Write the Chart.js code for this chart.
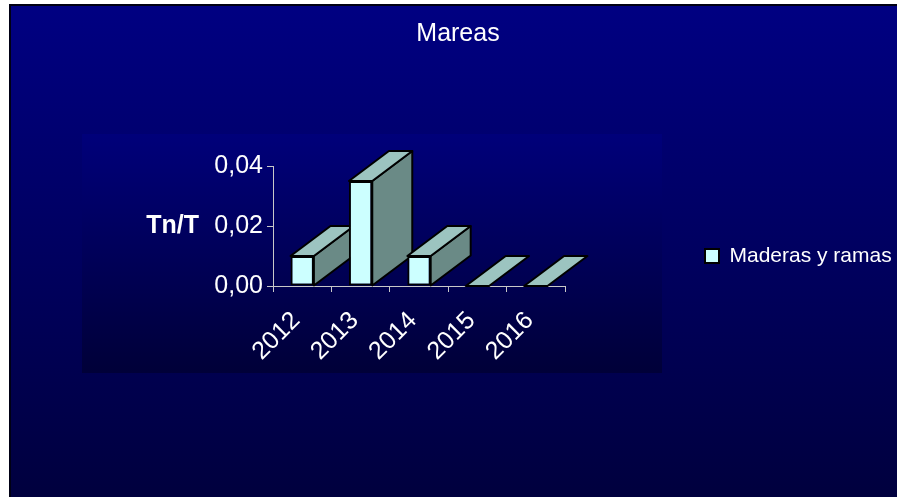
<!DOCTYPE html>
<html>
<head>
<meta charset="utf-8">
<script src="https://cdn.jsdelivr.net/npm/chart.js@4.4.1/dist/chart.umd.min.js"></script>
<style>
    body { margin: 0; background: #ffffff; overflow: hidden; }
    canvas { display: block; }
</style>
</head>
<body>
<canvas id="graph" width="897" height="497"></canvas>
<script>
const years = ['2012', '2013', '2014', '2015', '2016'];
const maderas = [0.01, 0.035, 0.01, 0, 0]; // Tn/T per year
const yTicks = [0, 0.02, 0.04];

const FRONT = '#ccffff';
const TOP = '#9cc4c0';
const SIDE = '#6a8a86';
const DEPTH_X = 40; // how far the bar extrudes to the right
const DEPTH_Y = 30; // and upwards

// slide background + darker inner panel behind the plot
const backdrop = {
    id: 'backdrop',
    beforeDraw(chart) {
        const {ctx, width, height} = chart;
        ctx.save();
        ctx.fillStyle = '#ffffff';
        ctx.fillRect(0, 0, width, height);
        const g = ctx.createLinearGradient(0, 4, 0, height);
        g.addColorStop(0, '#000082');
        g.addColorStop(1, '#00003e');
        ctx.fillStyle = g;
        ctx.fillRect(9, 4, width - 9, height - 4);
        ctx.fillStyle = '#000014';
        ctx.fillRect(9, 4, width - 9, 2);
        ctx.fillRect(9, 4, 2, height - 4);
        const p = ctx.createLinearGradient(0, 134, 0, 373);
        p.addColorStop(0, '#00007a');
        p.addColorStop(1, '#000038');
        ctx.fillStyle = p;
        ctx.fillRect(82, 134, 580, 239);
        ctx.restore();
    }
};

// draws the top and right faces of every bar, fronts are drawn by chart.js on top
const extrude = {
    id: 'extrude',
    beforeDatasetsDraw(chart) {
        const {ctx} = chart;
        const meta = chart.getDatasetMeta(0);
        ctx.save();
        ctx.lineWidth = 2;
        ctx.lineJoin = 'round';
        ctx.strokeStyle = '#000000';
        meta.data.forEach((bar) => {
            const {x, y, base, width} = bar.getProps(['x', 'y', 'base', 'width'], true);
            const x0 = x - width / 2;
            const x1 = x + width / 2;
            // right side
            if (base - y > 0.5) {
                ctx.beginPath();
                ctx.moveTo(x1, y);
                ctx.lineTo(x1 + DEPTH_X, y - DEPTH_Y);
                ctx.lineTo(x1 + DEPTH_X, base - DEPTH_Y);
                ctx.lineTo(x1, base);
                ctx.closePath();
                ctx.fillStyle = SIDE;
                ctx.fill();
                ctx.stroke();
            }
            // top
            ctx.beginPath();
            ctx.moveTo(x0, y);
            ctx.lineTo(x1, y);
            ctx.lineTo(x1 + DEPTH_X, y - DEPTH_Y);
            ctx.lineTo(x0 + DEPTH_X, y - DEPTH_Y);
            ctx.closePath();
            ctx.fillStyle = TOP;
            ctx.fill();
            ctx.stroke();
        });
        ctx.restore();
    }
};

// horizontal y axis title
const yTitle = {
    id: 'yTitle',
    afterDraw(chart) {
        const {ctx} = chart;
        const y = chart.scales.y;
        ctx.save();
        ctx.font = 'bold 25px "Liberation Sans", Arial, sans-serif';
        ctx.fillStyle = '#ffffff';
        ctx.textAlign = 'right';
        ctx.textBaseline = 'middle';
        ctx.fillText('Tn/T', y.right - 74, (y.top + y.bottom) / 2);
        ctx.restore();
    }
};

Chart.defaults.font.family = '"Liberation Sans", Arial, sans-serif';
Chart.defaults.color = '#ffffff';

const chart = new Chart(document.getElementById('graph'), {
    type: 'bar',
    data: {
        labels: years,
        datasets: [{
            label: 'Maderas y ramas',
            data: maderas,
            backgroundColor: FRONT,
            borderColor: '#000000',
            borderWidth: 2,
            borderSkipped: false,
            categoryPercentage: 1,
            barPercentage: 0.4,
        }]
    },
    options: {
        responsive: false,
        animation: false,
        events: [],
        layout: {
            padding: {left: 21, right: 2, top: 15, bottom: 0}
        },
        scales: {
            x: {
                grid: {drawOnChartArea: false, color: '#c8c8c8', tickLength: 6},
                border: {color: '#c8c8c8', width: 1},
                ticks: {
                    font: {size: 25},
                    color: '#ffffff',
                    minRotation: 45,
                    maxRotation: 45,
                    autoSkip: false,
                    padding: 14,
                    labelOffset: -6,
                },
                afterFit: (scale) => { scale.height = 211; }
            },
            y: {
                min: yTicks[0],
                max: yTicks[yTicks.length - 1],
                grid: {drawOnChartArea: false, color: '#c8c8c8', tickLength: 6},
                border: {color: '#c8c8c8', width: 1},
                ticks: {
                    font: {size: 25},
                    color: '#ffffff',
                    padding: 4,
                    callback: (v) => v.toFixed(2).replace('.', ','),
                },
                afterBuildTicks: (scale) => {
                    scale.ticks = yTicks.map((v) => ({value: v}));
                },
                afterFit: (scale) => { scale.width = 252; }
            }
        },
        plugins: {
            title: {
                display: true,
                text: 'Mareas',
                color: '#ffffff',
                font: {size: 25, weight: 'normal'},
                padding: {top: 4, bottom: 117}
            },
            legend: {
                position: 'right',
                maxWidth: 330,
                labels: {
                    boxWidth: 14,
                    boxHeight: 14,
                    padding: 140,
                    color: '#ffffff',
                    font: {size: 21}
                }
            },
            tooltip: {enabled: false}
        }
    },
    plugins: [backdrop, extrude, yTitle]
});
</script>
</body>
</html>
